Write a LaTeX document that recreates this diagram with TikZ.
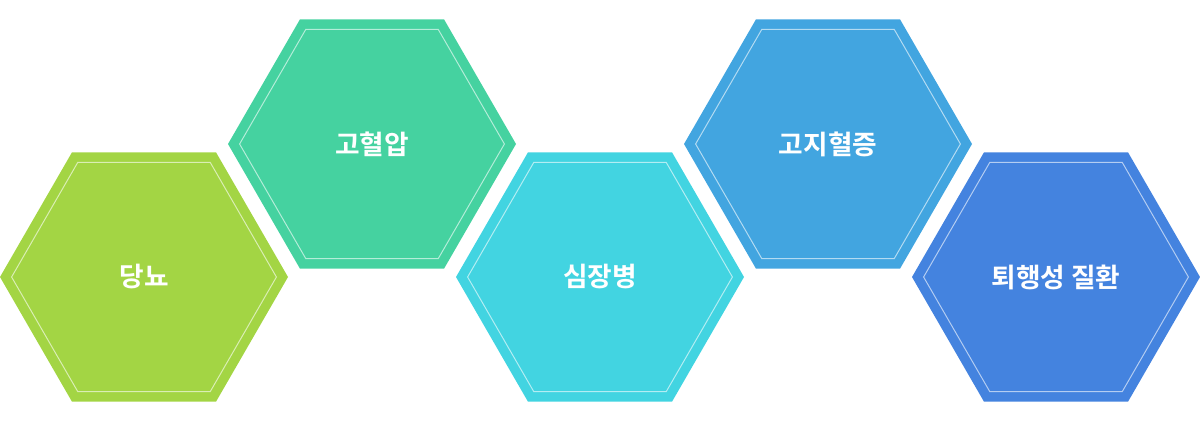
\documentclass[tikz,border=0pt]{standalone}
\usepackage{fontspec}
\newfontfamily\krfont{Noto Sans CJK KR}[BoldFont={* Bold}]
\usetikzlibrary{shapes.geometric}
\definecolor{cgreen}{HTML}{A3D544}
\definecolor{cmint}{HTML}{45D2A0}
\definecolor{ccyan}{HTML}{42D4E1}
\definecolor{csky}{HTML}{42A5E0}
\definecolor{cblue}{HTML}{4483DF}
\tikzset{
  hexcell/.style={regular polygon, regular polygon sides=6, minimum size=7.2cm,
    inner sep=0pt, fill=#1, draw=none},
  hexline/.style={regular polygon, regular polygon sides=6, minimum size=6.62cm,
    inner sep=0pt, draw=white, draw opacity=0.6, line width=0.7pt,
    text=white, font=\krfont\bfseries\fontsize{19}{22}\selectfont}
}
\begin{document}
\begin{tikzpicture}
\useasboundingbox (0,0) rectangle (30,10.55);

\coordinate (C1) at (3.6,3.625);
\coordinate (C2) at (9.3,6.95);
\coordinate (C3) at (15,3.625);
\coordinate (C4) at (20.7,6.95);
\coordinate (C5) at (26.4,3.625);

\node[hexcell=cgreen] (diabetes) at (C1) {};
\node[hexline] (diabetesin) at (C1) {당뇨};

\node[hexcell=cmint] (pressure) at (C2) {};
\node[hexline] (pressurein) at (C2) {고혈압};

\node[hexcell=ccyan] (heart) at (C3) {};
\node[hexline] (heartin) at (C3) {심장병};

\node[hexcell=csky] (lipid) at (C4) {};
\node[hexline] (lipidin) at (C4) {고지혈증};

\node[hexcell=cblue] (degen) at (C5) {};
\node[hexline] (degenin) at (C5) {퇴행성 질환};
\end{tikzpicture}
\end{document}
